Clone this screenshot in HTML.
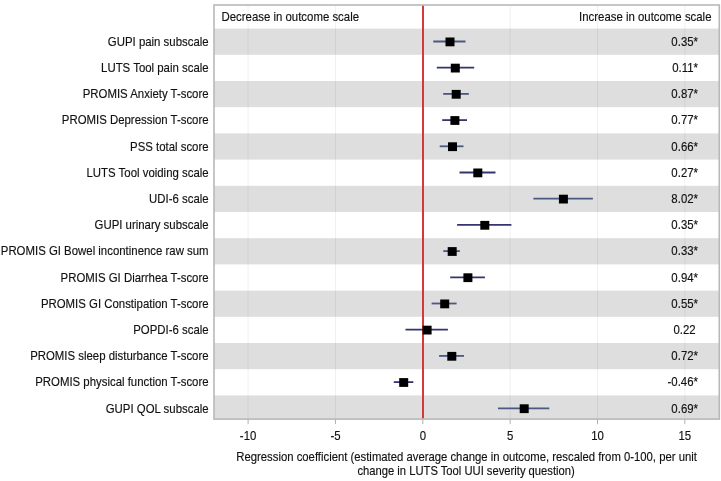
<!DOCTYPE html>
<html><head><meta charset="utf-8"><style>
html,body{margin:0;padding:0;background:#fff;width:721px;height:481px;overflow:hidden}
svg{display:block}
text{font-family:"Liberation Sans",sans-serif;font-size:12.4px;fill:#111;stroke:#111;stroke-width:0.15px}
svg{will-change:transform}
</style></head><body>
<svg width="721" height="481" viewBox="0 0 721 481">
<rect width="721" height="481" fill="#fff"/>
<rect x="214.0" y="28.60" width="505.3" height="26.20" fill="#dedede"/>
<rect x="214.0" y="81.00" width="505.3" height="26.20" fill="#dedede"/>
<rect x="214.0" y="133.40" width="505.3" height="26.20" fill="#dedede"/>
<rect x="214.0" y="185.80" width="505.3" height="26.20" fill="#dedede"/>
<rect x="214.0" y="238.20" width="505.3" height="26.20" fill="#dedede"/>
<rect x="214.0" y="290.60" width="505.3" height="26.20" fill="#dedede"/>
<rect x="214.0" y="343.00" width="505.3" height="26.20" fill="#dedede"/>
<rect x="214.0" y="395.40" width="505.3" height="23.70" fill="#dedede"/>
<line x1="248.10" y1="5.0" x2="248.10" y2="419.1" stroke="#000" stroke-opacity="0.06" stroke-width="1"/>
<line x1="335.45" y1="5.0" x2="335.45" y2="419.1" stroke="#000" stroke-opacity="0.06" stroke-width="1"/>
<line x1="510.15" y1="5.0" x2="510.15" y2="419.1" stroke="#000" stroke-opacity="0.06" stroke-width="1"/>
<line x1="597.50" y1="5.0" x2="597.50" y2="419.1" stroke="#000" stroke-opacity="0.06" stroke-width="1"/>
<line x1="684.85" y1="5.0" x2="684.85" y2="419.1" stroke="#000" stroke-opacity="0.06" stroke-width="1"/>
<rect x="214.0" y="5.0" width="505.3" height="414.1" fill="none" stroke="#b8b8b8" stroke-width="1.6"/>
<line x1="248.1" y1="419.6" x2="248.1" y2="424.1" stroke="#b0b0b0" stroke-width="1"/>
<text transform="translate(248.1 439.7) scale(0.92 1)" text-anchor="middle">-10</text>
<line x1="335.45" y1="419.6" x2="335.45" y2="424.1" stroke="#b0b0b0" stroke-width="1"/>
<text transform="translate(335.45 439.7) scale(0.92 1)" text-anchor="middle">-5</text>
<line x1="422.8" y1="419.6" x2="422.8" y2="424.1" stroke="#b0b0b0" stroke-width="1"/>
<text transform="translate(422.8 439.7) scale(0.92 1)" text-anchor="middle">0</text>
<line x1="510.15" y1="419.6" x2="510.15" y2="424.1" stroke="#b0b0b0" stroke-width="1"/>
<text transform="translate(510.15 439.7) scale(0.92 1)" text-anchor="middle">5</text>
<line x1="597.5" y1="419.6" x2="597.5" y2="424.1" stroke="#b0b0b0" stroke-width="1"/>
<text transform="translate(597.5 439.7) scale(0.92 1)" text-anchor="middle">10</text>
<line x1="684.85" y1="419.6" x2="684.85" y2="424.1" stroke="#b0b0b0" stroke-width="1"/>
<text transform="translate(684.85 439.7) scale(0.92 1)" text-anchor="middle">15</text>
<line x1="423" y1="5.75" x2="423" y2="418.35" stroke="#d23a3a" stroke-width="2"/>
<line x1="433.3" y1="41.50" x2="465.5" y2="41.50" stroke="#4a5884" stroke-width="1.8"/>
<rect x="445.50" y="37.50" width="9" height="8.8" fill="#000"/>
<text transform="translate(208.6 45.70) scale(0.92 1)" text-anchor="end">GUPI pain subscale</text>
<text transform="translate(698 45.70) scale(0.92 1)" text-anchor="end">0.35*</text>
<line x1="436.8" y1="67.70" x2="474.2" y2="67.70" stroke="#33356f" stroke-width="1.8"/>
<rect x="450.80" y="63.70" width="9" height="8.8" fill="#000"/>
<text transform="translate(208.6 71.90) scale(0.92 1)" text-anchor="end">LUTS Tool pain scale</text>
<text transform="translate(698 71.90) scale(0.92 1)" text-anchor="end">0.11*</text>
<line x1="443.2" y1="93.90" x2="468.8" y2="93.90" stroke="#4a5884" stroke-width="1.8"/>
<rect x="451.70" y="89.90" width="9" height="8.8" fill="#000"/>
<text transform="translate(208.6 98.10) scale(0.92 1)" text-anchor="end">PROMIS Anxiety T-score</text>
<text transform="translate(698 98.10) scale(0.92 1)" text-anchor="end">0.87*</text>
<line x1="442.2" y1="120.10" x2="467.0" y2="120.10" stroke="#33356f" stroke-width="1.8"/>
<rect x="450.40" y="116.10" width="9" height="8.8" fill="#000"/>
<text transform="translate(208.6 124.30) scale(0.92 1)" text-anchor="end">PROMIS Depression T-score</text>
<text transform="translate(698 124.30) scale(0.92 1)" text-anchor="end">0.77*</text>
<line x1="439.7" y1="146.30" x2="463.5" y2="146.30" stroke="#4a5884" stroke-width="1.8"/>
<rect x="448.00" y="142.30" width="9" height="8.8" fill="#000"/>
<text transform="translate(208.6 150.50) scale(0.92 1)" text-anchor="end">PSS total score</text>
<text transform="translate(698 150.50) scale(0.92 1)" text-anchor="end">0.66*</text>
<line x1="459.5" y1="172.50" x2="495.5" y2="172.50" stroke="#33356f" stroke-width="1.8"/>
<rect x="473.30" y="168.50" width="9" height="8.8" fill="#000"/>
<text transform="translate(208.6 176.70) scale(0.92 1)" text-anchor="end">LUTS Tool voiding scale</text>
<text transform="translate(698 176.70) scale(0.92 1)" text-anchor="end">0.27*</text>
<line x1="533.4" y1="198.70" x2="592.9" y2="198.70" stroke="#4a5884" stroke-width="1.8"/>
<rect x="558.90" y="194.70" width="9" height="8.8" fill="#000"/>
<text transform="translate(208.6 202.90) scale(0.92 1)" text-anchor="end">UDI-6 scale</text>
<text transform="translate(698 202.90) scale(0.92 1)" text-anchor="end">8.02*</text>
<line x1="457.1" y1="224.90" x2="511.4" y2="224.90" stroke="#33356f" stroke-width="1.8"/>
<rect x="480.30" y="220.90" width="9" height="8.8" fill="#000"/>
<text transform="translate(208.6 229.10) scale(0.92 1)" text-anchor="end">GUPI urinary subscale</text>
<text transform="translate(698 229.10) scale(0.92 1)" text-anchor="end">0.35*</text>
<line x1="443.3" y1="251.10" x2="459.9" y2="251.10" stroke="#4a5884" stroke-width="1.8"/>
<rect x="447.70" y="247.10" width="9" height="8.8" fill="#000"/>
<text transform="translate(208.6 255.30) scale(0.92 1)" text-anchor="end">PROMIS GI Bowel incontinence raw sum</text>
<text transform="translate(698 255.30) scale(0.92 1)" text-anchor="end">0.33*</text>
<line x1="450.2" y1="277.30" x2="484.9" y2="277.30" stroke="#33356f" stroke-width="1.8"/>
<rect x="463.40" y="273.30" width="9" height="8.8" fill="#000"/>
<text transform="translate(208.6 281.50) scale(0.92 1)" text-anchor="end">PROMIS GI Diarrhea T-score</text>
<text transform="translate(698 281.50) scale(0.92 1)" text-anchor="end">0.94*</text>
<line x1="431.6" y1="303.50" x2="456.6" y2="303.50" stroke="#4a5884" stroke-width="1.8"/>
<rect x="440.20" y="299.50" width="9" height="8.8" fill="#000"/>
<text transform="translate(208.6 307.70) scale(0.92 1)" text-anchor="end">PROMIS GI Constipation T-score</text>
<text transform="translate(698 307.70) scale(0.92 1)" text-anchor="end">0.55*</text>
<line x1="405.5" y1="329.70" x2="447.9" y2="329.70" stroke="#33356f" stroke-width="1.8"/>
<rect x="422.60" y="325.70" width="9" height="8.8" fill="#000"/>
<text transform="translate(208.6 333.90) scale(0.92 1)" text-anchor="end">POPDI-6 scale</text>
<text transform="translate(695.6 333.90) scale(0.92 1)" text-anchor="end">0.22</text>
<line x1="439.1" y1="355.90" x2="464.0" y2="355.90" stroke="#4a5884" stroke-width="1.8"/>
<rect x="447.30" y="351.90" width="9" height="8.8" fill="#000"/>
<text transform="translate(208.6 360.10) scale(0.92 1)" text-anchor="end">PROMIS sleep disturbance T-score</text>
<text transform="translate(698 360.10) scale(0.92 1)" text-anchor="end">0.72*</text>
<line x1="393.8" y1="382.10" x2="413.3" y2="382.10" stroke="#33356f" stroke-width="1.8"/>
<rect x="399.20" y="378.10" width="9" height="8.8" fill="#000"/>
<text transform="translate(208.6 386.30) scale(0.92 1)" text-anchor="end">PROMIS physical function T-score</text>
<text transform="translate(698 386.30) scale(0.92 1)" text-anchor="end">-0.46*</text>
<line x1="498.0" y1="408.30" x2="549.3" y2="408.30" stroke="#4a5884" stroke-width="1.8"/>
<rect x="519.70" y="404.30" width="9" height="8.8" fill="#000"/>
<text transform="translate(208.6 412.50) scale(0.92 1)" text-anchor="end">GUPI QOL subscale</text>
<text transform="translate(698 412.50) scale(0.92 1)" text-anchor="end">0.69*</text>
<text transform="translate(221.5 21.4) scale(0.92 1)">Decrease in outcome scale</text>
<text transform="translate(711.5 21.4) scale(0.92 1)" text-anchor="end">Increase in outcome scale</text>
<text transform="translate(466.6 460.9) scale(0.913 1)" text-anchor="middle">Regression coefficient (estimated average change in outcome, rescaled from 0-100, per unit</text>
<text transform="translate(466.1 474.8) scale(0.905 1)" text-anchor="middle">change in LUTS Tool UUI severity question)</text>
</svg>
</body></html>
